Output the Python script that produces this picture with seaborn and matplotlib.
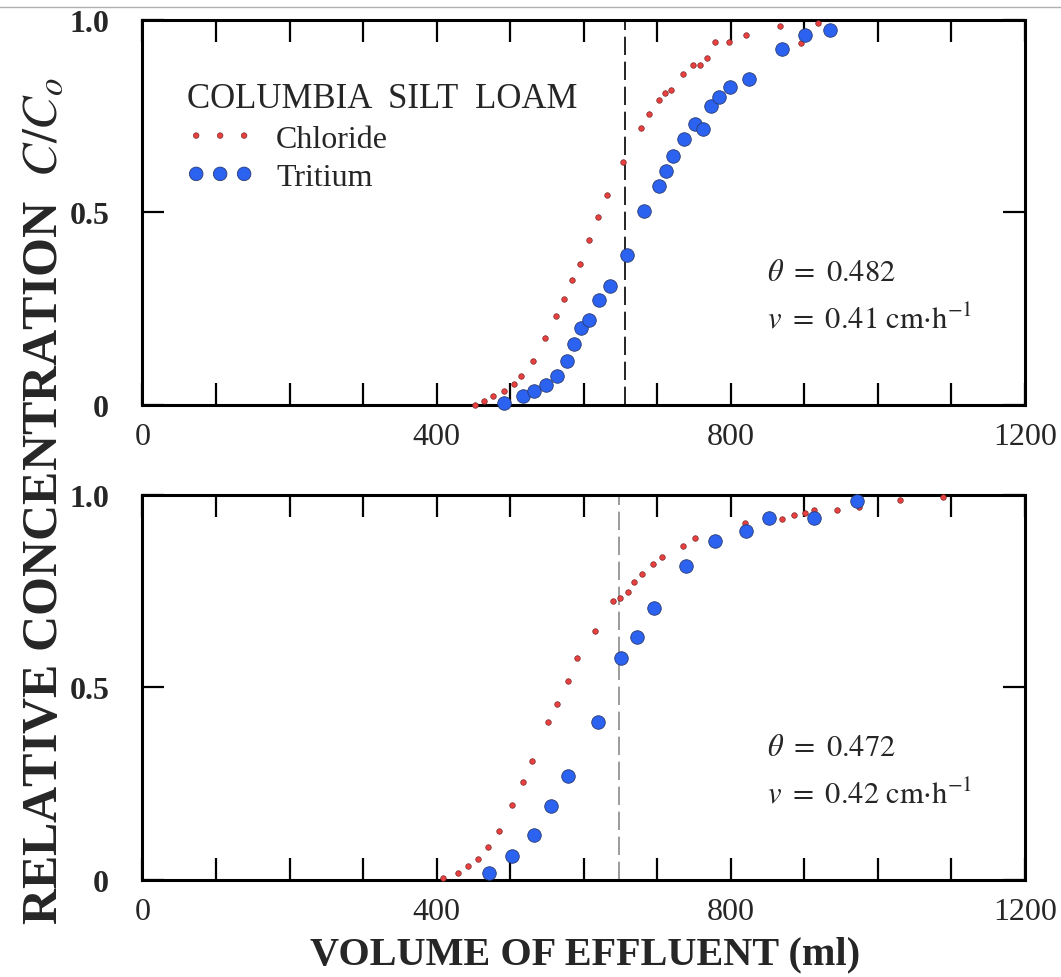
import pandas as pd
import seaborn as sns
import matplotlib.pyplot as plt
from matplotlib.lines import Line2D

# top panel: theta = 0.482, v = 0.41
top_cl_vol = [452, 465, 477, 492, 505, 515, 531, 547, 562, 573, 584, 595, 607, 620, 632,
              653, 678, 689, 702, 710, 719, 735, 749, 758, 768, 779, 797, 821, 867, 896, 918]
top_cl_conc = [0.0, 0.011, 0.024, 0.037, 0.054, 0.076, 0.115, 0.173, 0.232, 0.275, 0.324, 0.366,
               0.429, 0.487, 0.545, 0.631, 0.720, 0.754, 0.791, 0.810, 0.817, 0.858, 0.883, 0.883,
               0.900, 0.941, 0.941, 0.960, 0.983, 0.940, 0.992]
top_tr_vol = [492, 518, 533, 549, 564, 577, 587, 596, 607, 621, 636, 659, 682, 703, 712, 721,
              736, 751, 762, 773, 784, 799, 825, 870, 901, 935]
top_tr_conc = [0.005, 0.022, 0.035, 0.052, 0.076, 0.113, 0.158, 0.199, 0.221, 0.273, 0.310, 0.390,
               0.503, 0.569, 0.606, 0.645, 0.690, 0.729, 0.716, 0.775, 0.799, 0.824, 0.846, 0.924,
               0.961, 0.973]
top_pore_vol = 656

# bottom panel: theta = 0.472, v = 0.42
bot_cl_vol = [409, 429, 443, 456, 470, 485, 503, 517, 530, 552, 564, 578, 591, 616, 640, 650,
              660, 669, 679, 694, 707, 735, 751, 819, 870, 886, 901, 913, 944, 975, 1030, 1089]
bot_cl_conc = [0.004, 0.019, 0.036, 0.055, 0.086, 0.128, 0.195, 0.255, 0.308, 0.411, 0.457, 0.517,
               0.577, 0.646, 0.724, 0.733, 0.749, 0.775, 0.794, 0.820, 0.839, 0.867, 0.888, 0.926,
               0.938, 0.949, 0.952, 0.961, 0.961, 0.968, 0.987, 0.994]
bot_tr_vol = [471, 502, 533, 556, 578, 619, 651, 673, 695, 739, 779, 821, 852, 913, 972]
bot_tr_conc = [0.017, 0.062, 0.117, 0.191, 0.269, 0.411, 0.577, 0.630, 0.706, 0.815, 0.880, 0.906,
               0.939, 0.939, 0.985]
bot_pore_vol = 648

panels = [
    (top_cl_vol, top_cl_conc, top_tr_vol, top_tr_conc, top_pore_vol, "0.482", "0.41", 'black'),
    (bot_cl_vol, bot_cl_conc, bot_tr_vol, bot_tr_conc, bot_pore_vol, "0.472", "0.42", '#8a8a8a'),
]

sns.set_style("ticks")
plt.rcParams['font.family'] = ['Liberation Serif', 'DejaVu Serif']
plt.rcParams['mathtext.fontset'] = 'stix'

fig = plt.figure(figsize=(10.61, 9.78), dpi=100)
ax1 = fig.add_axes([0.1343, 0.5849, 0.8317, 0.394])
ax2 = fig.add_axes([0.1343, 0.0992, 0.8317, 0.3937])

xt = list(range(0, 1201, 100))
xl = [str(v) if v % 400 == 0 else '' for v in xt]

for ax, (cv, cc, tv, tc, pv, th, vel, dcol) in zip([ax1, ax2], panels):
    cl = pd.DataFrame({'vol': cv, 'conc': cc})
    tr = pd.DataFrame({'vol': tv, 'conc': tc})
    ax.axvline(pv, color=dcol, lw=1.2, dashes=(11, 4), zorder=1)
    sns.scatterplot(data=cl, x='vol', y='conc', ax=ax, color='#e8403f', s=16,
                    edgecolor='#7a2a2a', linewidth=0.5, label='Chloride', clip_on=False, zorder=3)
    sns.scatterplot(data=tr, x='vol', y='conc', ax=ax, color='#2c62f0', s=95,
                    edgecolor='#2a3a70', linewidth=0.6, label='Tritium', clip_on=False, zorder=3)
    ax.set_xlim(0, 1200)
    ax.set_ylim(0, 1.0)
    ax.set_xticks(xt, xl)
    ax.set_yticks([0, 0.5, 1.0], ['0', '0.5', '1.0'], fontweight='bold')
    ax.tick_params(direction='in', length=16, width=1.6, top=True, right=True,
                   labelsize=23, color='black')
    ax.tick_params(axis='x', pad=12)
    ax.tick_params(axis='y', pad=24)
    for sp in ax.spines.values():
        sp.set_linewidth(2.2)
        sp.set_color('black')
        sp.set_visible(True)
    ax.set_xlabel('')
    ax.set_ylabel('')
    ax.text(0.7076, 0.345, r'$\theta\ =\ ' + th + '$', transform=ax.transAxes,
            fontsize=22, va='center', ha='left')
    ax.text(0.7076, 0.223, r'$v\ =\ ' + vel + r'\ \mathrm{cm{\cdot}h^{-1}}$', transform=ax.transAxes,
            fontsize=22, va='center', ha='left')
    ax.get_legend().remove()

h, l = ax1.get_legend_handles_labels()
leg = ax1.legend(h, l, loc='upper left', bbox_to_anchor=(0.05, 0.837), frameon=False,
                 scatterpoints=3, scatteryoffsets=[0.5], fontsize=23,
                 title='COLUMBIA  SILT  LOAM', title_fontsize=25,
                 alignment='left', borderpad=0, borderaxespad=0, handlelength=2.1,
                 handletextpad=0.7, labelspacing=0.28)

fig.text(0.042, 0.488, r'RELATIVE CONCENTRATION  $C/C_o$', rotation=90, va='center',
         ha='center', fontsize=36, fontweight='bold')
fig.text(0.551, 0.024, 'VOLUME OF EFFLUENT (ml)', va='center', ha='center',
         fontsize=29, fontweight='bold')
fig.add_artist(Line2D([0, 1], [1 - 7.5 / 978] * 2, transform=fig.transFigure,
                      color='#b0b0b0', lw=1))

fig.savefig('out.png', dpi=100)
